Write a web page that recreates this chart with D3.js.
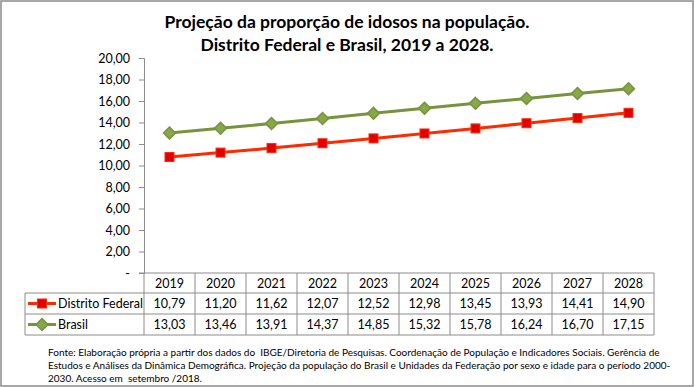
<!DOCTYPE html>
<html>
<head>
<meta charset="utf-8">
<script src="https://cdn.jsdelivr.net/npm/d3@7"></script>
<style>
  body { margin: 0; background: #fff; }
  svg { font-family: Lato, 'Liberation Sans', sans-serif; }
</style>
</head>
<body>
<svg width="695" height="387"></svg>
<script>
// data
let years = ['2019', '2020', '2021', '2022', '2023', '2024', '2025', '2026', '2027', '2028'];
let distritoFederal = [10.79, 11.20, 11.62, 12.07, 12.52, 12.98, 13.45, 13.93, 14.41, 14.90];
let brasil = [13.03, 13.46, 13.91, 14.37, 14.85, 15.32, 15.78, 16.24, 16.70, 17.15];
let yTicks = [0, 2, 4, 6, 8, 10, 12, 14, 16, 18, 20];
let titleLines = ['Projeção da proporção de idosos na população.', 'Distrito Federal e Brasil, 2019 a 2028.'];
let noteLines = [
    'Fonte: Elaboração própria a partir dos dados do  IBGE/Diretoria de Pesquisas. Coordenação de População e Indicadores Sociais. Gerência de',
    'Estudos e Análises da Dinâmica Demográfica. Projeção da população do Brasil e Unidades da Federação por sexo e idade para o período 2000-',
    '2030. Acesso em  setembro /2018.'
];

let series = [
    { name: 'Distrito Federal', values: distritoFederal, line: '#ff2a00', fill: '#e00000', stroke: '#ff2a00', shape: 'square' },
    { name: 'Brasil', values: brasil, line: '#77933c', fill: '#88a64a', stroke: '#77933c', shape: 'diamond' }
];

let svg = d3.select('svg');
let width = +svg.attr('width');
let height = +svg.attr('height');
let grid = '#8c8c8c';

let ptBR = d3.formatLocale({ decimal: ',', thousands: '.', grouping: [3], currency: ['R$', ''] });
let fmt = ptBR.format('.2f');

// frame
svg.append('rect')
    .attr('x', 1).attr('y', 1)
    .attr('width', width - 3).attr('height', height - 2)
    .attr('fill', 'none').attr('stroke', '#8a8a8a').attr('stroke-width', 1.5);

// title
svg.append('g').selectAll('text')
    .data(titleLines)
    .enter().append('text')
    .attr('x', 347)
    .attr('y', (d, i) => 28 + i * 23)
    .attr('text-anchor', 'middle')
    .attr('font-size', 17.5)
    .attr('font-weight', 'bold')
    .text(d => d);

let x = d3.scaleBand().domain(years).range([144, 654]);
let y = d3.scaleLinear().domain([0, 20]).range([273, 58]);

// y axis
let yAxis = svg.append('g')
    .attr('transform', 'translate(144,0)')
    .call(d3.axisLeft(y).tickValues(yTicks).tickSize(5).tickPadding(9)
        .tickFormat(d => d === 0 ? '-' : fmt(d)));
yAxis.select('.domain').attr('stroke', grid);
yAxis.selectAll('.tick line').attr('stroke', grid);
yAxis.selectAll('text').attr('font-size', 12.5).attr('fill', '#000').attr('font-family', 'Lato, sans-serif');

// x baseline
svg.append('line')
    .attr('x1', 139).attr('x2', x.range()[1])
    .attr('y1', y(0)).attr('y2', y(0))
    .attr('stroke', grid);

// data table
let rowTop = y(0);
let rowH = [20, 21, 21];
let rowY = [rowTop, rowTop + rowH[0], rowTop + rowH[0] + rowH[1], rowTop + rowH[0] + rowH[1] + rowH[2]];
let tableLeft = 25;
let tbl = svg.append('g').attr('stroke', grid).attr('stroke-width', 1);

years.concat(['end']).forEach((yr, i) => {
    let xx = i < years.length ? x(yr) : x.range()[1];
    tbl.append('line').attr('x1', xx).attr('x2', xx).attr('y1', rowY[0]).attr('y2', rowY[3]);
});
tbl.append('line').attr('x1', tableLeft).attr('x2', tableLeft).attr('y1', rowY[1]).attr('y2', rowY[3]);
[1, 2, 3].forEach(r => {
    tbl.append('line').attr('x1', tableLeft).attr('x2', x.range()[1]).attr('y1', rowY[r]).attr('y2', rowY[r]);
});

svg.append('g').selectAll('text')
    .data(years)
    .enter().append('text')
    .attr('x', d => x(d) + x.bandwidth() / 2)
    .attr('y', (rowY[0] + rowY[1]) / 2 + 4.5)
    .attr('text-anchor', 'middle')
    .attr('font-size', 12.5)
    .text(d => d);

series.forEach((s, si) => {
    let cy = (rowY[si + 1] + rowY[si + 2]) / 2;
    svg.append('g').selectAll('text')
        .data(s.values)
        .enter().append('text')
        .attr('x', (d, i) => x(years[i]) + x.bandwidth() / 2)
        .attr('y', cy + 4.5)
        .attr('text-anchor', 'middle')
        .attr('font-size', 12.5)
        .text(d => fmt(d));

    // legend key
    svg.append('line')
        .attr('x1', 28).attr('x2', 56).attr('y1', cy).attr('y2', cy)
        .attr('stroke', s.line).attr('stroke-width', 3);
    drawMarker(svg, s, 42, cy);
    svg.append('text')
        .attr('x', 58).attr('y', cy + 4.5)
        .attr('font-size', 12.5)
        .text(s.name);
});

// lines
let line = d3.line()
    .x((d, i) => x(years[i]) + x.bandwidth() / 2)
    .y(d => y(d));

series.forEach(s => {
    svg.append('path')
        .datum(s.values)
        .attr('d', line)
        .attr('fill', 'none')
        .attr('stroke', s.line)
        .attr('stroke-width', 3);
    s.values.forEach((v, i) => drawMarker(svg, s, x(years[i]) + x.bandwidth() / 2, y(v)));
});

function drawMarker(g, s, cx, cy) {
    if (s.shape === 'square') {
        g.append('rect')
            .attr('x', cx - 4.5).attr('y', cy - 4.5)
            .attr('width', 9).attr('height', 9)
            .attr('fill', s.fill).attr('stroke', s.stroke).attr('stroke-width', 1);
    } else {
        g.append('path')
            .attr('d', d3.symbol(d3.symbolDiamond2, 90)())
            .attr('transform', 'translate(' + cx + ',' + cy + ')')
            .attr('fill', s.fill).attr('stroke', s.stroke).attr('stroke-width', 1.5);
    }
}

// footnote
svg.append('g').selectAll('text')
    .data(noteLines)
    .enter().append('text')
    .attr('x', 48)
    .attr('y', (d, i) => 356 + i * 13)
    .attr('font-size', 10)
    .style('white-space', 'pre')
    .text(d => d);
</script>
</body>
</html>
